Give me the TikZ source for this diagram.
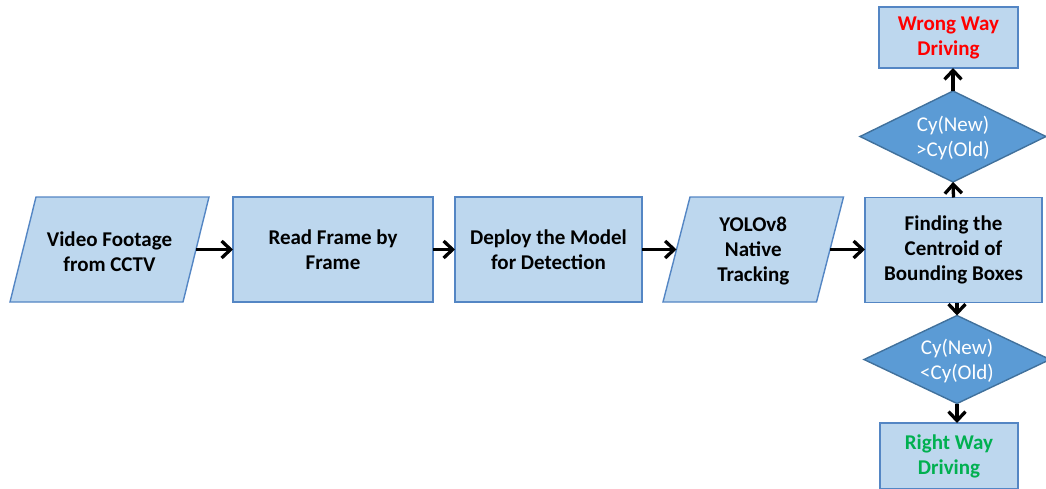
\documentclass[tikz,border=0pt]{standalone}
\usepackage{fontspec}
\setmainfont{Carlito}
\usetikzlibrary{arrows.meta}
\definecolor{boxfill}{RGB}{189,215,238}
\definecolor{boxline}{RGB}{84,134,196}
\definecolor{dmdfill}{RGB}{91,155,213}
\definecolor{dmdline}{RGB}{65,113,156}
\definecolor{wrongred}{RGB}{255,0,0}
\definecolor{rightgreen}{RGB}{0,176,80}
\tikzset{
  boxtext/.style={inner sep=0pt, outer sep=0pt, align=center,
    font=\fontsize{21}{25}\selectfont\bfseries},
  procbox/.style={boxtext, rectangle, draw=boxline, fill=boxfill, line width=1.4pt},
  slanttext/.style={boxtext},
  dmdtext/.style={inner sep=0pt, outer sep=0pt, align=center, text=white,
    font=\fontsize{21}{25}\selectfont},
  slantshape/.style={draw=boxline, fill=boxfill, line width=1.4pt},
  dmdshape/.style={draw=dmdline, fill=dmdfill, line width=1.4pt},
  flow/.style={-{Straight Barb[length=9pt,width=17pt,line width=3.3pt]}, line width=3.3pt, black}
}
\begin{document}
\begin{tikzpicture}[x=1pt,y=-1pt]
\useasboundingbox (0,0) rectangle (1046,488);
% input parallelogram
\node[slanttext, minimum width=173pt, minimum height=105pt] (p1) at (109.5,249.5) {};
\draw[slantshape] ([xshift=13pt]p1.north west) -- ([xshift=13pt]p1.north east) -- ([xshift=-13pt]p1.south east) -- ([xshift=-13pt]p1.south west) -- cycle;
\node[slanttext] (p1t) at ([yshift=-2pt]p1.center) {Video Footage\\from CCTV};
% boxes
\node[procbox, minimum width=200pt, minimum height=105pt] (b2) at (333,249.5) {Read Frame by\\Frame};
\node[procbox, minimum width=187pt, minimum height=105pt] (b3) at (548.5,249.5) {Deploy the Model\\for Detection};
% tracking parallelogram
\node[slanttext, minimum width=153.5pt, minimum height=105pt] (p4) at (753.25,249.5) {};
\draw[slantshape] ([xshift=13.5pt]p4.north west) -- ([xshift=13.5pt]p4.north east) -- ([xshift=-13.5pt]p4.south east) -- ([xshift=-13.5pt]p4.south west) -- cycle;
\node[slanttext] (p4t) at ([yshift=-2pt]p4.center) {YOLOv8\\Native\\Tracking};
% centroid box
\node[procbox, minimum width=177pt, minimum height=105pt] (b5) at (953.5,250) {Finding the\\Centroid of\\Bounding Boxes};
% upper diamond
\node[dmdtext, minimum width=186pt, minimum height=91pt] (d1) at (953,136.5) {};
\draw[dmdshape] (d1.north) -- (d1.east) -- (d1.south) -- (d1.west) -- cycle;
\node[dmdtext] (d1t) at ([yshift=-2pt]d1.center) {Cy(New)\\>Cy(Old)};
% wrong way box
\node[procbox, minimum width=139pt, minimum height=61pt, text=wrongred] (top) at (948.5,37.5) {Wrong Way\\Driving};
% lower diamond
\node[dmdtext, minimum width=186pt, minimum height=88pt] (d2) at (957,359.5) {};
\draw[dmdshape] (d2.north) -- (d2.east) -- (d2.south) -- (d2.west) -- cycle;
\node[dmdtext] (d2t) at ([yshift=-2pt]d2.center) {Cy(New)\\<Cy(Old)};
% right way box
\node[procbox, minimum width=138pt, minimum height=66pt, text=rightgreen] (bot) at (949,456) {Right Way\\Driving};
% connectors
\draw[flow] (p1.east) -- (b2.west);
\draw[flow] (b2.east) -- (b3.west);
\draw[flow] (b3.east) -- (p4.west);
\draw[flow] (p4.east) -- (p4.east -| b5.west);
\draw[flow] (b5.north) -- (d1.south);
\draw[flow] (d1.north) -- (d1.north |- top.south);
\draw[flow] (d2.north |- b5.south) -- (d2.north);
\draw[flow] (d2.south) -- (d2.south |- bot.north);
\end{tikzpicture}
\end{document}
